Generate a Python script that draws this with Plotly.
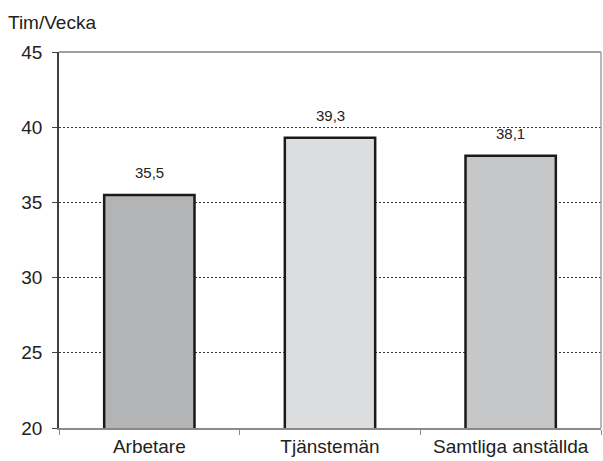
import plotly.graph_objects as go

categories = ["Arbetare", "Tjänstemän", "Samtliga anställda"]
values = [35.5, 39.3, 38.1]
bar_colors = ["#b3b4b6", "#dcdddf", "#c6c7c9"]
y_ticks = [20, 25, 30, 35, 40, 45]
y_title = "Tim/Vecka"

labels = [f"{v:.1f}".replace(".", ",") for v in values]

fig = go.Figure()
fig.add_trace(go.Bar(
    x=categories, y=values,
    marker=dict(color=bar_colors, line=dict(color="#1a1a1a", width=2.5)),
    width=0.5,
    hoverinfo="skip",
))

for c, v, t in zip(categories, values, labels):
    fig.add_annotation(x=c, y=v, text=t, showarrow=False, yanchor="middle",
                       yshift=22, font=dict(size=15, color="#222222"))

fig.add_annotation(x=0, y=1, xref="paper", yref="paper", xanchor="left", yanchor="bottom",
                   xshift=-53, yshift=17, text=y_title, showarrow=False,
                   font=dict(size=19, color="#222222"))

# top and right frame lines
fig.add_shape(type="line", xref="paper", yref="paper", x0=0, x1=1, y0=1, y1=1,
              line=dict(color="#a0a0a0", width=2))
fig.add_shape(type="line", xref="paper", yref="paper", x0=1, x1=1, y0=0, y1=1,
              line=dict(color="#a0a0a0", width=1.5))

fig.update_layout(
    width=603, height=461,
    margin=dict(l=59, r=2, t=52, b=33),
    paper_bgcolor="white", plot_bgcolor="white",
    font=dict(family="Liberation Sans, Arial, sans-serif", color="#222222"),
    showlegend=False,
    xaxis=dict(
        showline=True, linecolor="#8a8a8a", linewidth=1.5,
        ticks="outside", tickson="boundaries", ticklen=5, tickcolor="#8a8a8a",
        tickfont=dict(size=19), showgrid=False, range=[-0.5, 2.5],
    ),
    yaxis=dict(
        range=[20, 45], tickvals=y_ticks,
        showline=True, linecolor="#404040", linewidth=1.5,
        ticks="outside", ticklen=5, tickcolor="#404040",
        tickfont=dict(size=19), ticklabelstandoff=6,
        showgrid=True, gridcolor="#333333", gridwidth=1, griddash="2px,2px",
        zeroline=False,
    ),
)

fig.write_html("out.html", config={"displayModeBar": False},
               post_script="document.body.style.margin='0px';")
